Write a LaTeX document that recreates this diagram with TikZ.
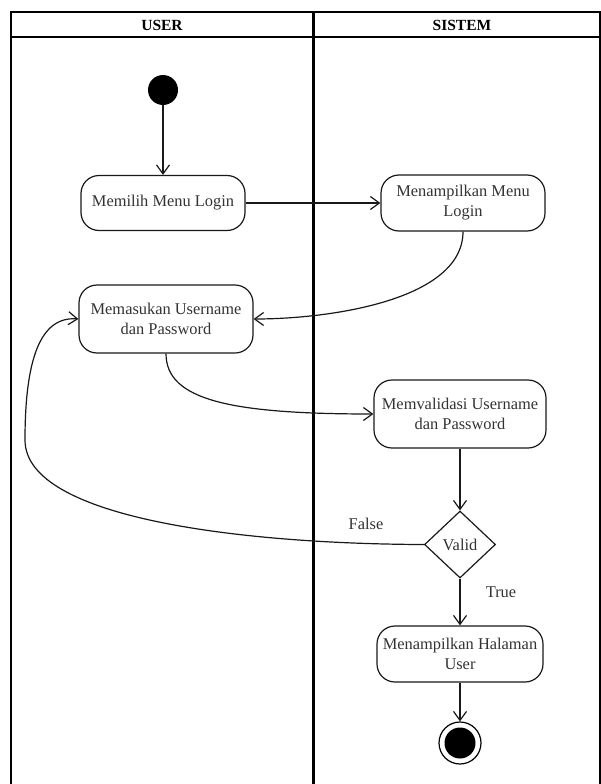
\documentclass[tikz,border=0pt]{standalone}
\usepackage{fontspec}
\setmainfont{Liberation Serif}
\usetikzlibrary{arrows.meta,shapes.geometric}
\begin{document}
\begin{tikzpicture}[x=1pt,y=-1pt,
  lane/.style={line width=2pt, draw=black},
  act/.style={draw=black!90, line width=1.2pt, rounded corners=18pt, align=center,
    inner sep=0pt, text=black!80, font=\fontsize{16.4}{20}\selectfont},
  dec/.style={draw=black!90, line width=1.2pt, diamond, inner sep=0pt, aspect=1,
    text=black!80, font=\fontsize{16.4}{20}\selectfont},
  arr/.style={draw=black!90, line width=1.2pt,
    -{Straight Barb[length=9pt,width=13pt,line width=1.2pt]}},
  lbl/.style={text=black!80, font=\fontsize{16.4}{20}\selectfont}
]
\useasboundingbox (0,0) rectangle (601,784);

% swimlane frame
\draw[lane] (11,800) -- (11,12) -- (599.5,12) -- (599.5,800);
\draw[lane] (11,37) -- (599.5,37);
\draw[line width=3pt] (313,12) -- (313,800);
\node[font=\bfseries\fontsize{15.5}{18}\selectfont] (hUser) at (162,25) {USER};
\node[font=\bfseries\fontsize{15.5}{18}\selectfont] (hSys) at (462,25) {SISTEM};

% nodes
\node[circle, fill=black, minimum size=30pt, inner sep=0pt] (start) at (163,90) {};
\node[act, minimum width=164pt, minimum height=55pt] (pilih) at (163,203) {Memilih Menu Login};
\node[act, minimum width=164pt, minimum height=56pt] (menu) at (463,203) {Menampilkan Menu\\Login};
\node[act, minimum width=174pt, minimum height=68pt] (masuk) at (166,319) {Memasukan Username\\dan Password};
\node[act, minimum width=172pt, minimum height=68pt] (valid) at (460,414) {Memvalidasi Username\\dan Password};
\node[dec, minimum width=71pt, minimum height=67pt] (cek) at (460,544.5) {Valid};
\node[act, minimum width=166pt, minimum height=56pt] (hal) at (460,654) {Menampilkan Halaman\\User};
\node[circle, draw=black, line width=1.2pt, minimum size=42pt, inner sep=0pt] (end) at (460,743) {};
\node[circle, fill=black, minimum size=31pt, inner sep=0pt] (endIn) at (end.center) {};

% connectors
\draw[arr] (start) -- (pilih);
\draw[arr] (pilih.east) -- (menu.west);
\draw[arr] (menu.south) .. controls (463,300) and (330,319) .. (masuk.east);
\draw[arr] (masuk.south) .. controls (166,400) and (230,414) .. (valid.west);
\draw[arr] (valid.south) -- (cek.north);
\draw[arr] (cek.west) .. controls (250,544) and (25,520) .. (25,440)
  .. controls (25,360) and (40,316) .. (masuk.west);
\draw[arr] (cek.south) -- (hal.north);
\draw[arr] (hal.south) -- (end.north);

% guard labels
\node[lbl] (lFalse) at (366,524) {False};
\node[lbl] (lTrue) at (501,592) {True};
\end{tikzpicture}
\end{document}
